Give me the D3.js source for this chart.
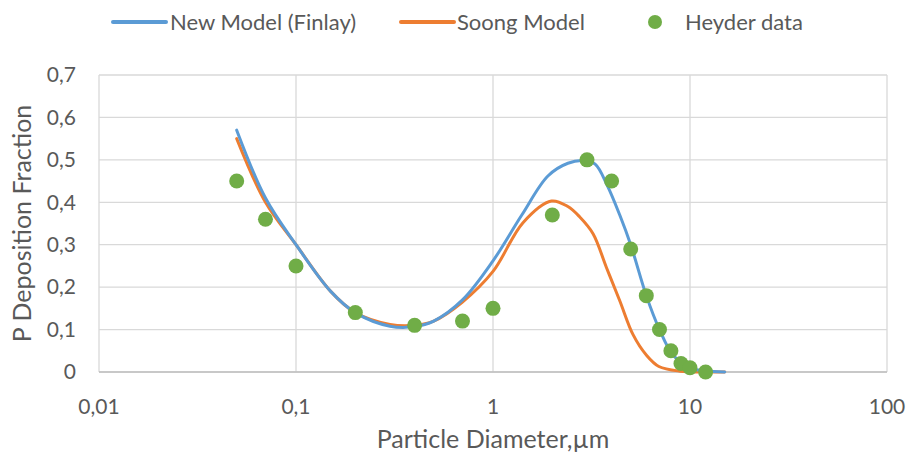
<!DOCTYPE html>
<html>
<head>
<meta charset="utf-8">
<script src="https://cdn.jsdelivr.net/npm/d3@7"></script>
<style>
  body { margin: 0; background: #fff; }
  text { font-family: Lato, "Open Sans", sans-serif; fill: #595959; }
</style>
</head>
<body>
<div id="viz"></div>
<script>
// chart data
var finlayX = [0.05, 0.07, 0.1, 0.15, 0.2, 0.3, 0.4, 0.5, 0.7, 1, 1.4, 1.9, 2.4, 2.9, 3.3, 3.8, 4.4, 5, 6, 7, 8.2, 10, 12, 15];
var finlayY = [0.57, 0.41, 0.30, 0.19, 0.14, 0.108, 0.107, 0.12, 0.17, 0.262, 0.37, 0.462, 0.492, 0.498, 0.49, 0.44, 0.37, 0.30, 0.18, 0.10, 0.04, 0.01, 0.003, 0];
var soongX = [0.05, 0.07, 0.1, 0.15, 0.2, 0.3, 0.4, 0.5, 0.7, 1, 1.42, 1.98, 2.4, 2.75, 3.22, 3.76, 4.4, 5.14, 6, 6.95, 8.9, 12, 15];
var soongY = [0.55, 0.40, 0.30, 0.19, 0.14, 0.112, 0.11, 0.12, 0.165, 0.237, 0.352, 0.403, 0.39, 0.366, 0.326, 0.247, 0.168, 0.088, 0.04, 0.013, 0.002, 0, 0];
var heyderX = [0.05, 0.07, 0.1, 0.2, 0.4, 0.7, 1, 2, 3, 4, 5, 6, 7, 8, 9, 10, 12];
var heyderY = [0.45, 0.36, 0.25, 0.14, 0.11, 0.12, 0.15, 0.37, 0.5, 0.45, 0.29, 0.18, 0.10, 0.05, 0.02, 0.01, 0];
var xTicks = [0.01, 0.1, 1, 10, 100];
var yTicks = [0, 0.1, 0.2, 0.3, 0.4, 0.5, 0.6, 0.7];

var width = 910, height = 458;
var margin = {top: 75, right: 23, bottom: 86, left: 99};

var svg = d3.select("#viz").append("svg")
  .attr("width", width)
  .attr("height", height);

var x = d3.scaleLog().domain([0.01, 100]).range([margin.left, width - margin.right]);
var y = d3.scaleLinear().domain([0, 0.7]).range([height - margin.bottom, margin.top]);

var comma = function(v) { return String(v).replace(".", ","); };

// gridlines
svg.append("g").selectAll("line").data(yTicks).enter().append("line")
  .attr("x1", x(0.01)).attr("x2", x(100))
  .attr("y1", function(d) { return y(d); }).attr("y2", function(d) { return y(d); })
  .attr("stroke", "#d9d9d9").attr("stroke-width", 1.3);
svg.append("g").selectAll("line").data(xTicks).enter().append("line")
  .attr("x1", function(d) { return x(d); }).attr("x2", function(d) { return x(d); })
  .attr("y1", y(0)).attr("y2", y(0.7))
  .attr("stroke", "#d9d9d9").attr("stroke-width", 1.3);
svg.append("line")
  .attr("x1", x(0.01)).attr("x2", x(100)).attr("y1", y(0)).attr("y2", y(0))
  .attr("stroke", "#bfbfbf").attr("stroke-width", 1.3);

// tick labels
svg.append("g").selectAll("text").data(yTicks).enter().append("text")
  .attr("x", 76).attr("y", function(d) { return y(d); })
  .attr("dy", "0.35em").attr("text-anchor", "end")
  .style("font-size", "21px")
  .text(comma);
svg.append("g").selectAll("text").data(xTicks).enter().append("text")
  .attr("x", function(d) { return x(d); }).attr("y", 407)
  .attr("dy", "0.35em").attr("text-anchor", "middle")
  .style("font-size", "21px")
  .text(comma);

// axis titles
svg.append("text")
  .attr("x", x(1)).attr("y", 448).attr("text-anchor", "middle")
  .style("font-size", "25px")
  .text("Particle Diameter,µm");
svg.append("text")
  .attr("transform", "translate(31," + ((y(0) + y(0.7)) / 2) + ") rotate(-90)")
  .attr("text-anchor", "middle")
  .style("font-size", "25px")
  .text("P Deposition Fraction");

// lines
var line = d3.line()
  .x(function(d) { return x(d[0]); })
  .y(function(d) { return y(d[1]); })
  .curve(d3.curveCatmullRom.alpha(0.5));

svg.append("path")
  .datum(d3.zip(soongX, soongY))
  .attr("d", line)
  .attr("fill", "none").attr("stroke", "#ed7d31").attr("stroke-width", 3)
  .attr("stroke-linecap", "round");
svg.append("path")
  .datum(d3.zip(finlayX, finlayY))
  .attr("d", line)
  .attr("fill", "none").attr("stroke", "#5b9bd5").attr("stroke-width", 3)
  .attr("stroke-linecap", "round");

// Heyder points
svg.append("g").selectAll("circle").data(d3.zip(heyderX, heyderY)).enter().append("circle")
  .attr("cx", function(d) { return x(d[0]); })
  .attr("cy", function(d) { return y(d[1]); })
  .attr("r", 7.5)
  .attr("fill", "#70ad47");

// legend
var legend = svg.append("g").attr("transform", "translate(0,22)");
legend.append("line").attr("x1", 113).attr("x2", 166).attr("y1", 0).attr("y2", 0)
  .attr("stroke", "#5b9bd5").attr("stroke-width", 4).attr("stroke-linecap", "round");
legend.append("text").attr("x", 170).attr("dy", "0.35em").style("font-size", "22px").text("New Model (Finlay)");
legend.append("line").attr("x1", 401).attr("x2", 454).attr("y1", 0).attr("y2", 0)
  .attr("stroke", "#ed7d31").attr("stroke-width", 4).attr("stroke-linecap", "round");
legend.append("text").attr("x", 457).attr("dy", "0.35em").style("font-size", "22px").text("Soong Model");
legend.append("circle").attr("cx", 655).attr("cy", 0).attr("r", 7).attr("fill", "#70ad47");
legend.append("text").attr("x", 685).attr("dy", "0.35em").style("font-size", "22px").text("Heyder data");
</script>
</body>
</html>
